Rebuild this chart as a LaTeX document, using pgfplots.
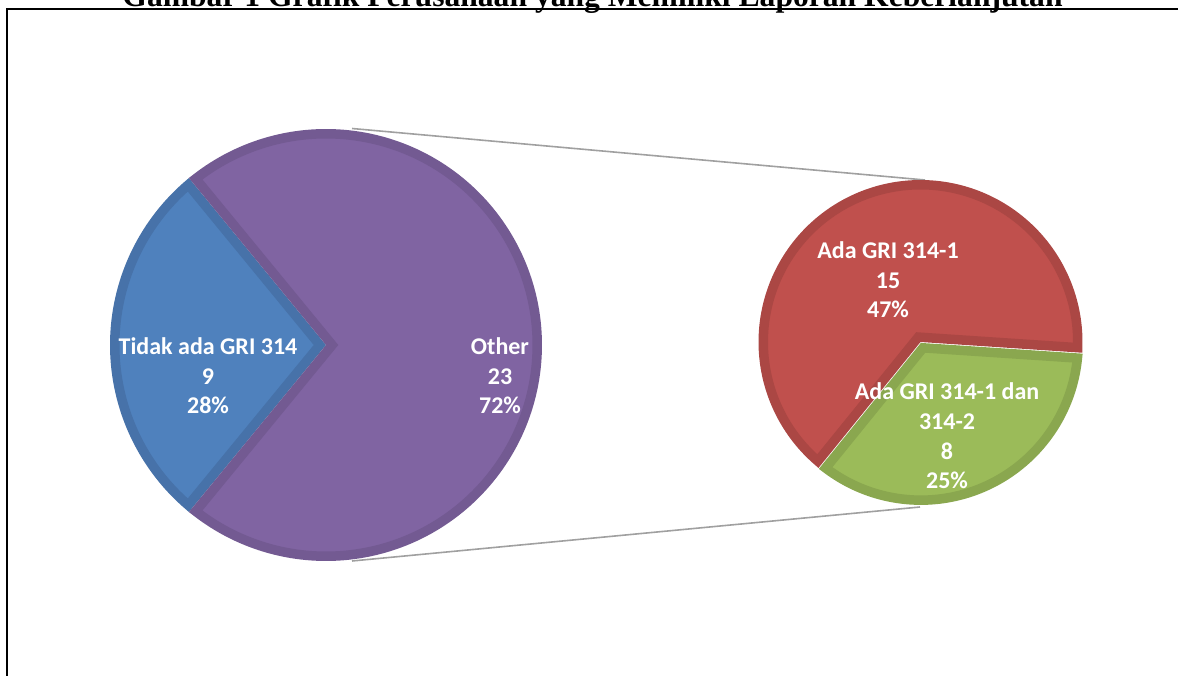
\documentclass[border=0pt]{standalone}
\usepackage{pgfplots}
\pgfplotsset{compat=1.18}
\usepackage{fontspec}
\setmainfont{Liberation Serif}
\newfontfamily\carlito{Carlito}

\definecolor{bluefill}{HTML}{4F81BD}
\definecolor{blueedge}{HTML}{4772A9}
\definecolor{purplefill}{HTML}{8064A2}
\definecolor{purpleedge}{HTML}{735A92}
\definecolor{redfill}{HTML}{C0504D}
\definecolor{rededge}{HTML}{AB4744}
\definecolor{greenfill}{HTML}{9BBB59}
\definecolor{greenedge}{HTML}{8AA74F}
\definecolor{connector}{HTML}{A0A0A0}

% data
\def\vTidak{9}
\def\vOther{23}
\def\vAda{15}
\def\vDan{8}

% half border width in px (1 px = 0.5 pt)
\def\hb{4.75}
% #1 cx, #2 cy, #3 R, #4 a1, #5 a2, #6 explode, #7 fill, #8 border
\newcommand\drawwedge[8]{%
  \pgfmathsetmacro\wgM{(#4+#5)/2}%
  \pgfmathsetmacro\wgD{\hb/sin((#5-#4)/2)}%
  \pgfmathsetmacro\wgCX{#1+#6*cos(\wgM)}%
  \pgfmathsetmacro\wgCY{#2+#6*sin(\wgM)}%
  \pgfmathsetmacro\wgAX{\wgCX+\wgD*cos(\wgM)}%
  \pgfmathsetmacro\wgAY{\wgCY+\wgD*sin(\wgM)}%
  \pgfmathsetmacro\wgR{#3-\hb}%
  \pgfmathsetmacro\wgDel{asin(\hb/\wgR)}%
  \pgfmathsetmacro\wgSA{#4+\wgDel}%
  \pgfmathsetmacro\wgSB{#5-\wgDel}%
  \pgfmathsetmacro\wgLW{\hb}%
  \edef\wgCmd{\noexpand\addplot[fill=#7, draw=#8, line width=\wgLW pt, line join=miter,
     domain=\wgSA:\wgSB, samples=180, variable=\noexpand\t]
     ({\wgCX+\wgR*cos(\noexpand\t)},{\wgCY+\wgR*sin(\noexpand\t)}) -- (axis cs:\wgAX,\wgAY) -- cycle;}%
  \wgCmd
}

\begin{document}
\begin{tikzpicture}
\clip (0,0) rectangle (589pt,337.5pt);
\pgfmathsetmacro\hB{\vTidak/(\vTidak+\vOther)*180}
\pgfmathsetmacro\aBs{180-\hB}
\pgfmathsetmacro\aBe{180+\hB}
\pgfmathsetmacro\aPe{540-\hB}
\pgfmathsetmacro\aG{\vDan/(\vAda+\vDan)*360}
\pgfmathsetmacro\aGe{356.2}
\pgfmathsetmacro\aGs{\aGe-\aG}
\pgfmathsetmacro\aRs{\aGe-360}
\begin{axis}[
  at={(0,0)}, anchor=south west,
  width=589pt, height=337.5pt, scale only axis,
  xmin=0, xmax=1178, ymin=0, ymax=675,
  hide axis, clip=false, no markers,
]
% frame
\addplot[black, line width=1pt, line join=miter] coordinates {(7,-5) (7,666) (1190,666)};
% connector lines
\addplot[connector, line width=0.8pt] coordinates {(352,546.5) (925,495)};
\addplot[connector, line width=0.8pt] coordinates {(352,114) (920,168)};
% left pie
\drawwedge{326}{330}{216}{\aBs}{\aBe}{0}{bluefill}{blueedge}
\drawwedge{326}{330}{216}{\aBe}{\aPe}{0}{purplefill}{purpleedge}
% right pie
\drawwedge{920.5}{333}{162}{\aRs}{\aGs}{0}{redfill}{rededge}
\drawwedge{920.5}{333}{162}{\aGs}{\aGe}{1}{greenfill}{greenedge}
% labels
\tikzset{lbl/.style={text=white, align=center, inner sep=0pt,
  font=\carlito\bfseries\fontsize{12}{14.8}\selectfont}}
\node[lbl] at (axis cs:208,299) {Tidak ada GRI 314\\9\\28\%};
\node[lbl] at (axis cs:500,299) {Other\\23\\72\%};
\node[lbl] at (axis cs:888,395) {Ada GRI 314-1\\15\\47\%};
\node[lbl] at (axis cs:947,239) {Ada GRI 314-1 dan\\314-2\\8\\25\%};
% title (cut off at the top, as in the original)
\node[anchor=base, inner sep=0pt, font=\bfseries\fontsize{15.8}{18}\selectfont]
  at (axis cs:592.5,668) {Gambar 1 Grafik Perusahaan yang Memiliki Laporan Keberlanjutan};
\end{axis}
\end{tikzpicture}
\end{document}
